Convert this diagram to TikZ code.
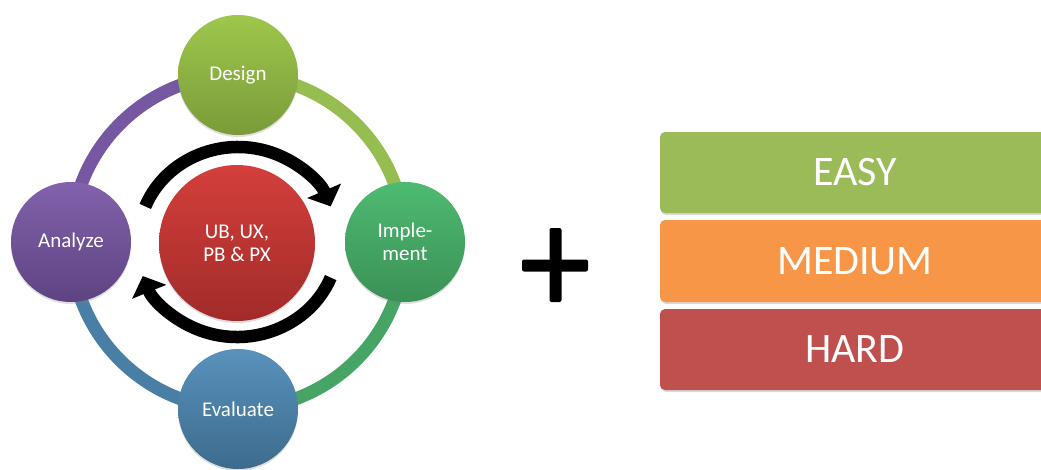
\documentclass[tikz,border=0pt]{standalone}
\usepackage{fontspec}
\setmainfont{Carlito}
\usetikzlibrary{arrows.meta,shadows}
\definecolor{ringA}{HTML}{96BD4F}
\definecolor{ringB}{HTML}{46A565}
\definecolor{ringC}{HTML}{4A7FA5}
\definecolor{ringD}{HTML}{7657A1}
\definecolor{easyc}{HTML}{9BBB59}
\definecolor{medc}{HTML}{F79646}
\definecolor{hardc}{HTML}{C0504D}
\definecolor{dsT}{HTML}{9EC74C}\definecolor{dsB}{HTML}{7A9B39}
\definecolor{imT}{HTML}{4EBA71}\definecolor{imB}{HTML}{3B9156}
\definecolor{evT}{HTML}{5892BC}\definecolor{evB}{HTML}{3D6B8D}
\definecolor{anT}{HTML}{8262AC}\definecolor{anB}{HTML}{5E4382}
\definecolor{coT}{HTML}{D43F3B}\definecolor{coB}{HTML}{A12B29}
\tikzset{
  bubble/.style={circle, minimum size=120pt, inner sep=0pt, text=white,
    font=\fontsize{21}{23}\selectfont, align=center,
    drop shadow={shadow xshift=0pt, shadow yshift=-2pt, opacity=0.25}},
  ringseg/.style={line width=13pt},
  cyclearrow/.style={line width=12.5pt, black, -{Triangle[length=17pt,width=36pt]}},
  level/.style={rounded corners=5pt, text=white, font=\fontsize{42}{44}\selectfont,
    drop shadow={shadow xshift=1pt, shadow yshift=-2pt, opacity=0.3}},
}
\begin{document}
\begin{tikzpicture}[x=1pt,y=-1pt]
\clip (0,0) rectangle (1041,469);
\fill[white] (0,0) rectangle (1041,469);
\coordinate (O) at (238,242);
% ring
\coordinate (pD) at (238,75);
\coordinate (pI) at (405,242);
\coordinate (pE) at (238,409);
\coordinate (pA) at (71,242);
\draw[ringseg, ringA] (pD) arc[start angle=-90, end angle=0, radius=167];
\draw[ringseg, ringB] (pI) arc[start angle=0, end angle=90, radius=167];
\draw[ringseg, ringC] (pE) arc[start angle=90, end angle=180, radius=167];
\draw[ringseg, ringD] (pA) arc[start angle=180, end angle=270, radius=167];
% circles
\node[bubble, top color=dsT, bottom color=dsB] (design) at (pD) {Design};
\node[bubble, top color=imT, bottom color=imB] (impl) at (pI) {Imple-\\ment};
\node[bubble, top color=evT, bottom color=evB] (eval) at (pE) {Evaluate};
\node[bubble, top color=anT, bottom color=anB] (analyze) at (pA) {Analyze};
\node[bubble, minimum size=156pt, top color=coT, bottom color=coB] (core) at (237,243) {UB, UX,\\PB \& PX};
% cycle arrows
\draw[cyclearrow] ([shift={(202:100 and 95)}]O) arc[start angle=202, end angle=338, x radius=100, y radius=95];
\draw[cyclearrow] ([shift={(22:100 and 95)}]O) arc[start angle=22, end angle=159, x radius=101, y radius=95];
% plus
\fill[black, rounded corners=2pt] (549.5,228) rectangle (561.5,302);
\fill[black, rounded corners=2pt] (522,259.5) rectangle (588,271.5);
% levels
\node[level, fill=easyc, minimum width=390pt, minimum height=81pt] (easy) at (855,172.5) {EASY};
\node[level, fill=medc, minimum width=390pt, minimum height=82pt] (medium) at (855,261) {MEDIUM};
\node[level, fill=hardc, minimum width=390pt, minimum height=81pt] (hard) at (855,349.5) {HARD};
\end{tikzpicture}
\end{document}
